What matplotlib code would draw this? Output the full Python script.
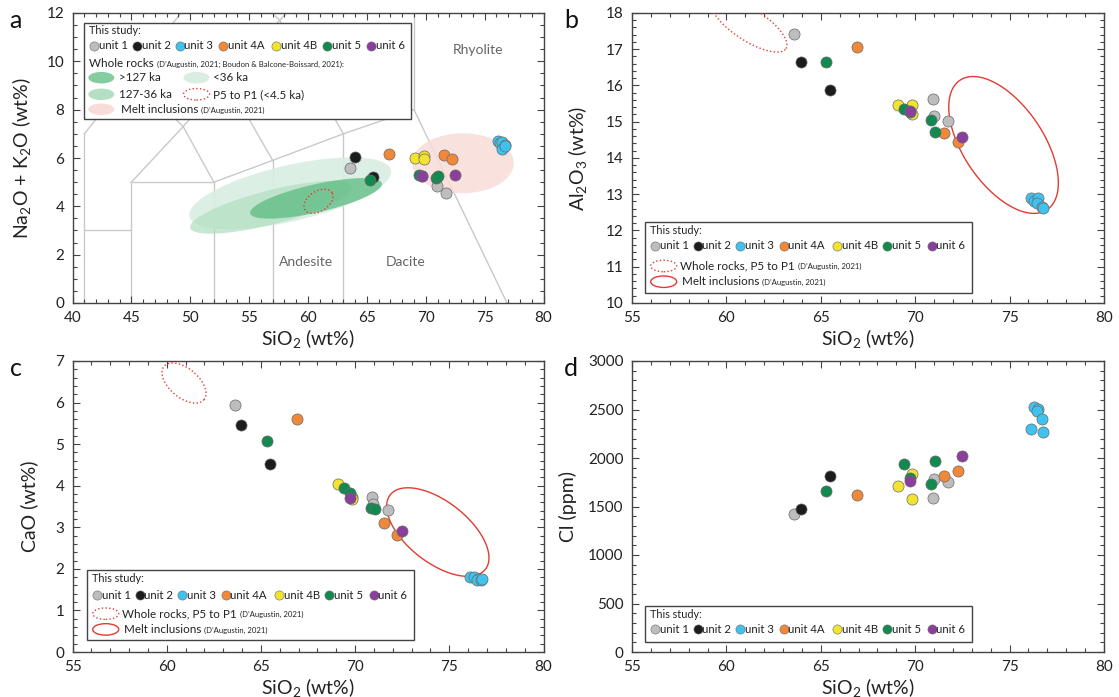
import matplotlib
matplotlib.use('Agg')
import matplotlib.pyplot as plt
from matplotlib.patches import Polygon, Rectangle, Ellipse
from matplotlib.transforms import IdentityTransform
from matplotlib.ticker import MultipleLocator
import numpy as np

plt.rcParams['font.family'] = ['Lato', 'DejaVu Sans']
plt.rcParams['mathtext.default'] = 'regular'

# samples of this study, one list per unit
units = ['unit 1', 'unit 2', 'unit 3', 'unit 4A', 'unit 4B', 'unit 5', 'unit 6']
colors = ['#bdbdbd', '#1c1c1c', '#3fc3ee', '#f0883a', '#f2e42e', '#128a4f', '#8a3f9d']

sio2 = [
    [63.60, 70.92, 70.97, 71.74],
    [63.97, 65.50],
    [76.12, 76.30, 76.50, 76.46, 76.69, 76.75],
    [66.92, 71.53, 72.25],
    [69.10, 69.82, 69.82],
    [65.30, 69.42, 69.72, 70.84, 71.04],
    [69.72, 72.50],
]
alkali = [
    [5.59, 4.86, 5.20, 4.54],
    [6.03, 5.20],
    [6.69, 6.62, 6.65, 6.37, 6.52, 6.50],
    [6.17, 6.11, 5.97],
    [6.02, 6.10, 5.96],
    [5.10, 5.28, 5.25, 5.17, 5.24],
    [5.24, 5.28],
]
al2o3 = [
    [17.42, 15.62, 15.16, 15.03],
    [16.66, 15.87],
    [12.91, 12.82, 12.91, 12.75, 12.66, 12.61],
    [17.07, 14.70, 14.44],
    [15.47, 15.47, 15.22],
    [16.64, 15.35, 15.27, 15.06, 14.72],
    [15.29, 14.59],
]
cao = [
    [5.93, 3.72, 3.55, 3.42],
    [5.45, 4.53],
    [1.80, 1.81, 1.76, 1.74, 1.72, 1.76],
    [5.61, 3.10, 2.81],
    [4.03, 3.72, 3.69],
    [5.08, 3.95, 3.82, 3.47, 3.45],
    [3.70, 2.92],
]
cl = [
    [1426, 1591, 1783, 1755],
    [1474, 1810],
    [2297, 2527, 2503, 2486, 2397, 2270],
    [1622, 1817, 1862],
    [1711, 1834, 1581],
    [1663, 1941, 1797, 1735, 1965],
    [1759, 2019],
]

# TAS field boundaries (Le Bas et al.)
tas_lines = [
    [(41, 0), (41, 7)],
    [(41, 3), (45, 3)],
    [(45, 0), (45, 5)],
    [(45, 5), (52, 5)],
    [(52, 0), (52, 5)],
    [(57, 0), (57, 5.9)],
    [(63, 0), (63, 7)],
    [(52, 5), (57, 5.9), (63, 7), (69, 8)],
    [(69, 8), (69, 12)],
    [(69, 8), (76.9, 0)],
    [(45, 5), (49.4, 7.3), (53, 9.3), (57.6, 11.7), (61, 13.5)],
    [(49.4, 7.3), (52, 5)],
    [(53, 9.3), (57, 5.9)],
    [(57.6, 11.7), (63, 7)],
    [(41, 7), (45, 9.4), (48.4, 11.5), (52.5, 14)],
    [(45, 9.4), (49.4, 7.3)],
    [(48.4, 11.5), (53, 9.3)],
    [(52.5, 14), (57.6, 11.7)],
]
tas_names = ['Andesite', 'Dacite', 'Rhyolite']
tas_name_xy = [(59.8, 1.68), (68.3, 1.68), (74.45, 10.48)]

# literature fields: centre (data), half axes on screen (px), screen angle
green_fill = ['#d9eee1', '#b5dfc3', '#5dbb82']
green_alpha = [0.9, 0.75, 0.75]
wr_ages = [(58.49, 4.54, 103.4, 28, 13.0),
           (56.86, 3.96, 83.4, 17, 14.3),
           (60.68, 4.33, 67.5, 14, 12.8)]
p5p1 = {'a': (60.89, 4.21, 16, 10, 32),
        'b': (61.2, 17.68, 44, 16, -33),
        'c': (60.92, 6.47, 26, 14.5, -40)}
melt = {'a': (73.16, 5.785, 50.8, 29.9, 0),
        'b': (74.68, 14.36, 78, 40, -56),
        'c': (74.39, 2.885, 60.4, 30.5, -38)}

RED = '#e23b33'
W, H = 1119, 697


def add_ellipse(ax, el, **kw):
    cx, cy, a, b, ang = el
    ox, oy = ax.transData.transform((cx, cy))
    t = np.linspace(0, 2 * np.pi, 240)
    th = np.radians(ang)
    px = ox + a * np.cos(t) * np.cos(th) - b * np.sin(t) * np.sin(th)
    py = oy + a * np.cos(t) * np.sin(th) + b * np.sin(t) * np.cos(th)
    pts = ax.transData.inverted().transform(np.column_stack([px, py]))
    ax.add_patch(Polygon(pts, closed=True, **kw))


def style(ax, xlim, ylim, xmaj, xmin, ymaj, ymin):
    ax.set_xlim(*xlim)
    ax.set_ylim(*ylim)
    ax.xaxis.set_major_locator(MultipleLocator(xmaj))
    ax.xaxis.set_minor_locator(MultipleLocator(xmin))
    ax.yaxis.set_major_locator(MultipleLocator(ymaj))
    ax.yaxis.set_minor_locator(MultipleLocator(ymin))
    ax.tick_params(which='both', direction='in', top=True, right=True,
                   color='#444', width=0.8, labelcolor='#222')
    ax.tick_params(which='major', length=5, labelsize=11, pad=6)
    ax.tick_params(which='minor', length=3)
    for s in ax.spines.values():
        s.set_color('#444')
        s.set_linewidth(1.0)
    ax.set_xlabel('SiO$_2$ (wt%)', fontsize=14, labelpad=1, color='#222')


def scatter_units(ax, ys):
    for i in range(len(units)):
        ax.scatter(sio2[i], ys[i], s=64, c=colors[i], edgecolors='#6a6a6a',
                   linewidths=0.5, zorder=5)


def legend(ax, fx, fy, w, h, rows, extra):
    # box top-left given in axes fraction, everything else in pixels
    ox, oy = ax.transAxes.transform((fx, fy))
    tr = IdentityTransform()
    ax.add_patch(Rectangle((ox, oy - h), w, h, transform=tr, facecolor='white',
                           edgecolor='#444', linewidth=1.0, zorder=10))
    ax.text(ox + 5, oy - rows[0], 'This study:', transform=tr, fontsize=7.8,
            va='center', ha='left', color='#222', zorder=11)
    mx = [10, 53, 95.5, 139, 192, 242.5, 287]
    for i in range(len(units)):
        ax.plot([ox + mx[i]], [oy - rows[1]], 'o', ms=6.6, color=colors[i],
                mec='#6a6a6a', mew=0.4, transform=tr, zorder=11)
        ax.text(ox + mx[i] + 5, oy - rows[1], units[i], transform=tr,
                fontsize=8.2, va='center', ha='left', color='#222', zorder=11)
    for kind, x, y, label, small in extra:
        yy = oy - y
        if kind == 'text':
            tt = ax.text(ox + x, yy, label, transform=tr, fontsize=8.4,
                         va='center', ha='left', color='#222', zorder=11)
        else:
            sw = dict(transform=tr, zorder=11)
            if kind == 'dotted':
                sw.update(facecolor='none', edgecolor=RED, linestyle=':', linewidth=1.0)
            elif kind == 'solid':
                sw.update(facecolor='none', edgecolor=RED, linewidth=1.0)
            elif kind == 'pink':
                sw.update(facecolor='#f8dcd8', edgecolor='none')
            else:
                sw.update(facecolor=green_fill[kind], edgecolor='none',
                          alpha=green_alpha[kind] if kind == 2 else 1)
            ax.add_patch(Ellipse((ox + x, yy), 26, 11.5, **sw))
            tt = None
        if small and tt is not None:
            ax.annotate(small, xy=(1, 0.5), xycoords=tt, xytext=(2, -0.5),
                        textcoords='offset points', fontsize=5.6, va='center',
                        ha='left', color='#222', zorder=11)


fig = plt.figure(figsize=(W / 100, H / 100), dpi=100)
ax_a = fig.add_axes([72.5 / W, 1 - 303 / H, 471 / W, 290 / H])
ax_b = fig.add_axes([632 / W, 1 - 303 / H, 472 / W, 290 / H])
ax_c = fig.add_axes([72.5 / W, 1 - 652 / H, 471 / W, 291 / H])
ax_d = fig.add_axes([632 / W, 1 - 652 / H, 472 / W, 291 / H])

# a : TAS
style(ax_a, (40, 80), (0, 12), 5, 1, 2, 0.5)
for ln in tas_lines:
    xs, ys = zip(*ln)
    ax_a.plot(xs, ys, color='#c9c9c9', lw=1.0, zorder=1)
for name, (x, y) in zip(tas_names, tas_name_xy):
    ax_a.text(x, y, name, fontsize=10, color='#666', ha='center', va='center')
add_ellipse(ax_a, melt['a'], facecolor='#f8dcd8', edgecolor='none', alpha=0.85, zorder=2)
for k, el in enumerate(wr_ages):
    add_ellipse(ax_a, el, facecolor=green_fill[k],
                edgecolor='none', alpha=green_alpha[k], zorder=2)
add_ellipse(ax_a, p5p1['a'], facecolor='none', edgecolor=RED, linestyle=':', lw=1.0, zorder=3)
scatter_units(ax_a, alkali)
ax_a.set_ylabel('Na$_2$O + K$_2$O (wt%)', fontsize=14, labelpad=10, color='#222')
legend(ax_a, 11.5 / 471, 1 - 9.7 / 290, 327, 96.6, (8, 23),
       [('text', 5, 40.6, 'Whole rocks', '(D\u2019Augustin, 2021; Boudon & Balcone-Boissard, 2021):'),
        (2, 17.3, 55, None, None), ('text', 35, 55, '>127 ka', None),
        (0, 112.5, 55, None, None), ('text', 129, 55, '<36 ka', None),
        (1, 17.3, 71.6, None, None), ('text', 35, 71.6, '127-36 ka', None),
        ('dotted', 112.5, 71.6, None, None), ('text', 129, 71.6, 'P5 to P1 (<4.5 ka)', None),
        ('pink', 17.3, 86.6, None, None),
        ('text', 36.7, 86.6, 'Melt inclusions', '(D\u2019Augustin, 2021)')])

lit_items = [('dotted', 19.2, 43.7, None, None),
             ('text', 35.8, 43.7, 'Whole rocks, P5 to P1', '(D\u2019Augustin, 2021)'),
             ('solid', 19.2, 59.4, None, None),
             ('text', 37, 59.4, 'Melt inclusions', '(D\u2019Augustin, 2021)')]

# b : Al2O3
style(ax_b, (55, 80), (10, 18), 5, 1, 1, 0.2)
add_ellipse(ax_b, p5p1['b'], facecolor='none', edgecolor=RED, linestyle=':', lw=1.0, zorder=3)
add_ellipse(ax_b, melt['b'], facecolor='none', edgecolor=RED, lw=1.0, zorder=3)
scatter_units(ax_b, al2o3)
ax_b.set_ylabel('Al$_2$O$_3$ (wt%)', fontsize=14, labelpad=12, color='#222')
legend(ax_b, 12.5 / 472, 1 - 209.3 / 290, 327.5, 71, (8.4, 23.7), lit_items)

# c : CaO
style(ax_c, (55, 80), (0, 7), 5, 1, 1, 0.2)
add_ellipse(ax_c, p5p1['c'], facecolor='none', edgecolor=RED, linestyle=':', lw=1.0, zorder=3)
add_ellipse(ax_c, melt['c'], facecolor='none', edgecolor=RED, lw=1.0, zorder=3)
scatter_units(ax_c, cao)
ax_c.set_ylabel('CaO (wt%)', fontsize=14, labelpad=12, color='#222')
legend(ax_c, 14 / 471, 1 - 209 / 291, 327, 70, (8.3, 25.3), lit_items)

# d : Cl
style(ax_d, (55, 80), (0, 3000), 5, 1, 500, 100)
scatter_units(ax_d, cl)
ax_d.set_ylabel('Cl (ppm)', fontsize=14, labelpad=8, color='#222')
legend(ax_d, 12.5 / 472, 1 - 244.7 / 291, 327.5, 36, (9.3, 23.6), [])

for lab, (x, y) in zip('abcd', [(15, 20), (571, 20), (16, 369), (571, 368)]):
    fig.text(x / W, 1 - y / H, lab, fontsize=18, ha='center', va='center', color='#111')

fig.savefig('out.png', dpi=100)
